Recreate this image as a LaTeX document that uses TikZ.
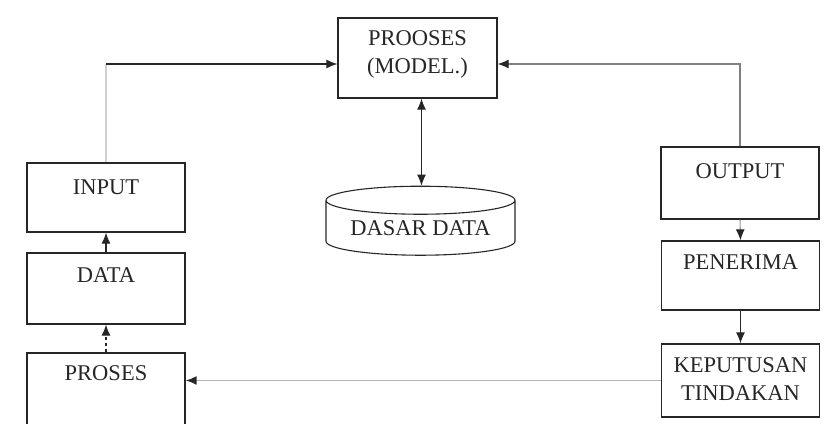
\documentclass[tikz,border=0pt]{standalone}
\usepackage{fontspec}
\setmainfont{Liberation Serif}
\usetikzlibrary{arrows.meta,positioning,calc,shapes.geometric}
\definecolor{Ink}{HTML}{262626}

\begin{document}
\begin{tikzpicture}[x=1pt,y=-1pt,font=\fontsize{22.5}{28}\selectfont,
    boxstyle/.style={draw=Ink,line width=1.3pt,minimum width=158pt,inner sep=0pt},
    txt/.style={anchor=center,yshift=-#1,align=center,text=Ink},
    flow/.style={-{Latex[length=11pt,width=9pt,color=Ink]},line width=1.1pt,draw=Ink}]
    \useasboundingbox (0,0) rectangle (827,423);
    \clip (0,0) rectangle (827,423);
    % proses model dan dasar data
    \node[boxstyle,minimum width=159pt,minimum height=80pt,label={[txt=37pt]north:PROOSES\\(MODEL.)}] (model) at (417.5,58) {};
    \node[cylinder,shape border rotate=90,draw=Ink,line width=1.1pt,aspect=.2,minimum width=189pt,minimum height=69pt,inner sep=0pt,text=Ink] (db) at (420.5,228) {DASAR DATA};
    % kolom kiri
    \node[boxstyle,minimum height=69pt,label={[txt=25pt]north:INPUT}] (input) at (106,197.5) {};
    \node[boxstyle,minimum height=71pt,label={[txt=23pt]north:DATA}] (data) at (106,288.5) {};
    \node[boxstyle,minimum height=80pt,label={[txt=21pt]north:PROSES}] (proses) at (106,393) {};
    % kolom kanan
    \node[boxstyle,minimum height=72pt,label={[txt=25pt]north:OUTPUT}] (output) at (740,183) {};
    \node[boxstyle,minimum height=69pt,label={[txt=22pt]north:PENERIMA}] (penerima) at (740.5,275.5) {};
    \node[boxstyle,minimum height=73pt,label={[txt=36pt]north:KEPUTUSAN\\TINDAKAN}] (keputusan) at (740.5,380.5) {};
    % panah
    \coordinate (kiri) at (input.north |- 0,64);
    \draw[line width=1.1pt,draw=black!18] (input.north) -- (kiri);
    \draw[flow] (kiri) -- ([yshift=-6pt]model.west);
    \draw[flow,draw=black!50] (output.north) |- ([yshift=-6pt]model.east);
    \draw[flow,{Latex[length=11pt,width=9pt]}-{Latex[length=11pt,width=9pt]}] ([xshift=4pt]model.south) -- ([xshift=4pt]model.south |- db.north);
    \draw[flow] (data.north) -- (input.south);
    \draw[flow,dashed] (proses.north) -- (data.south);
    \draw[flow,draw=black!40] (output.south) -- (penerima.north);
    \draw[flow] (penerima.south) -- (keputusan.north);
    \draw[flow,draw=black!30,line width=1.6pt] (keputusan.west) -- (keputusan.west -| proses.east);
\end{tikzpicture}
\end{document}
